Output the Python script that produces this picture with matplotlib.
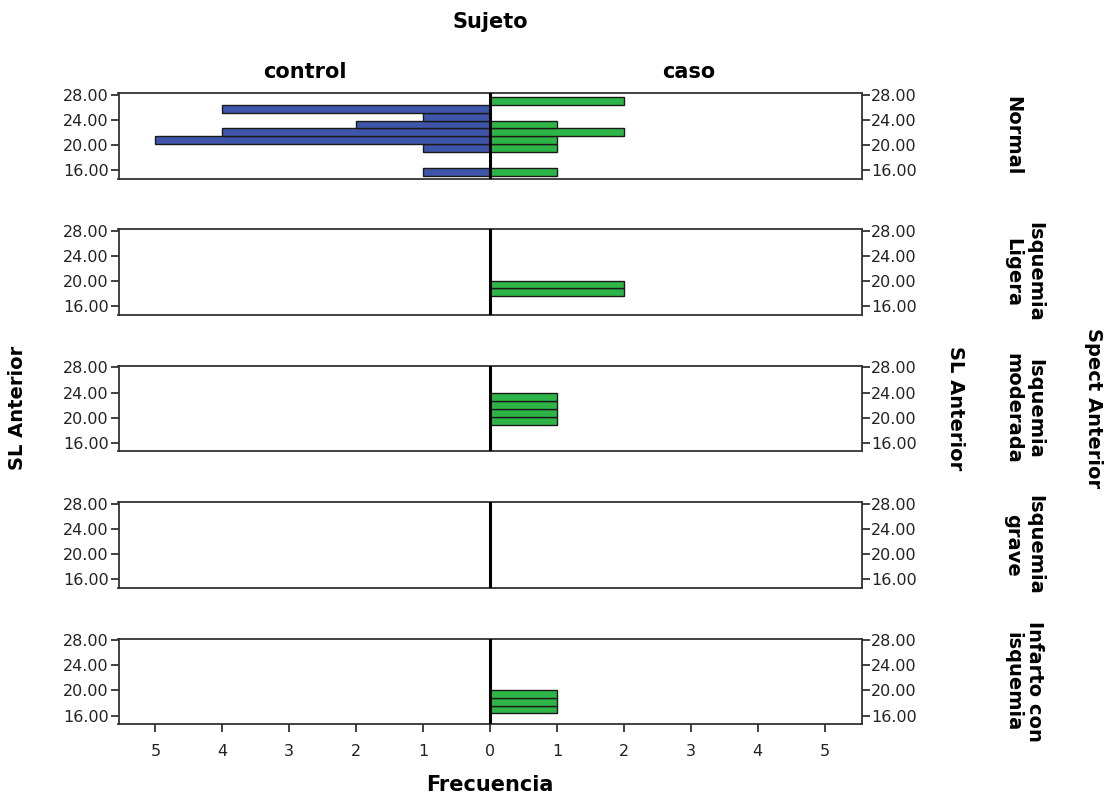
import matplotlib
matplotlib.use("Agg")
import matplotlib.pyplot as plt

# bins of SL Anterior (centres) and the five Spect Anterior groups
bin_centers = [15.73, 16.98, 18.23, 19.48, 20.73, 21.98, 23.23, 24.48, 25.73, 26.98]
bin_width = 1.25
groups = ["Normal", "Isquemia\nLigera", "Isquemia\nmoderada", "Isquemia\ngrave", "Infarto con\nisquemia"]

# frequencies per bin, one list per group
control_counts = [
    [1, 0, 0, 1, 5, 4, 2, 1, 4, 0],
    [0, 0, 0, 0, 0, 0, 0, 0, 0, 0],
    [0, 0, 0, 0, 0, 0, 0, 0, 0, 0],
    [0, 0, 0, 0, 0, 0, 0, 0, 0, 0],
    [0, 0, 0, 0, 0, 0, 0, 0, 0, 0],
]
caso_counts = [
    [1, 0, 0, 1, 1, 2, 1, 0, 0, 2],
    [0, 0, 2, 2, 0, 0, 0, 0, 0, 0],
    [0, 0, 0, 1, 1, 1, 1, 0, 0, 0],
    [0, 0, 0, 0, 0, 0, 0, 0, 0, 0],
    [0, 1, 1, 1, 0, 0, 0, 0, 0, 0],
]
y_ticks = [16, 20, 24, 28]
x_ticks = [-5, -4, -3, -2, -1, 0, 1, 2, 3, 4, 5]

blue = "#3d56a9"
green = "#2eb548"

fig = plt.figure(figsize=(11.2, 8), dpi=100)

W, H = 1120.0, 800.0
left, right = 118.5, 861.5
for i, grp in enumerate(groups):
    top = 93 + 136.4 * i
    bot = top + 85.5
    ax = fig.add_axes([left / W, 1 - bot / H, (right - left) / W, 85.5 / H])

    ax.barh(bin_centers, [-c for c in control_counts[i]], height=bin_width,
            color=blue, edgecolor="#1a1a1a", linewidth=1.0)
    ax.barh(bin_centers, caso_counts[i], height=bin_width,
            color=green, edgecolor="#1a1a1a", linewidth=1.0)
    ax.axvline(0, color="black", lw=2.2, zorder=5)

    ax.set_xlim(-5.55, 5.55)
    ax.set_ylim(14.65, 28.25)
    ax.set_yticks(y_ticks)
    ax.set_yticklabels(["%.2f" % v for v in y_ticks])
    ax.tick_params(axis="y", which="both", left=True, right=True,
                   labelleft=True, labelright=True, direction="out",
                   length=6, width=1.3, color="#333333", pad=1,
                   labelsize=11.5, labelcolor="#222222")
    for s in ax.spines.values():
        s.set_color("#333333")
        s.set_linewidth(1.3)

    if i == len(groups) - 1:
        ax.set_xticks(x_ticks)
        ax.set_xticklabels([str(abs(v)) for v in x_ticks])
        ax.tick_params(axis="x", direction="out", length=6, width=1.3,
                       color="#333333", labelsize=11.5, labelcolor="#222222", pad=8)
    else:
        ax.set_xticks([])

    yc = 1 - (top + 42.75) / H
    fig.text(1003 / W, yc, grp, rotation=-90, ha="left", va="center",
             multialignment="center", fontsize=14, fontweight="bold",
             linespacing=1.2)

bold = dict(fontweight="bold", color="black")
fig.text(490 / W, 1 - 22 / H, "Sujeto", ha="center", va="center", fontsize=15, **bold)
fig.text(305 / W, 1 - 72 / H, "control", ha="center", va="center", fontsize=15, **bold)
fig.text(689 / W, 1 - 72 / H, "caso", ha="center", va="center", fontsize=15, **bold)
fig.text(490 / W, 1 - 785 / H, "Frecuencia", ha="center", va="center", fontsize=15, **bold)
fig.text(18 / W, 1 - 408 / H, "SL Anterior", rotation=90, ha="center", va="center",
         fontsize=14, **bold)
fig.text(956 / W, 1 - 408 / H, "SL Anterior", rotation=-90, ha="center", va="center",
         fontsize=14, **bold)
fig.text(1093 / W, 1 - 408 / H, "Spect Anterior", rotation=-90, ha="center", va="center",
         fontsize=14, **bold)

fig.savefig("out.png", dpi=100)
